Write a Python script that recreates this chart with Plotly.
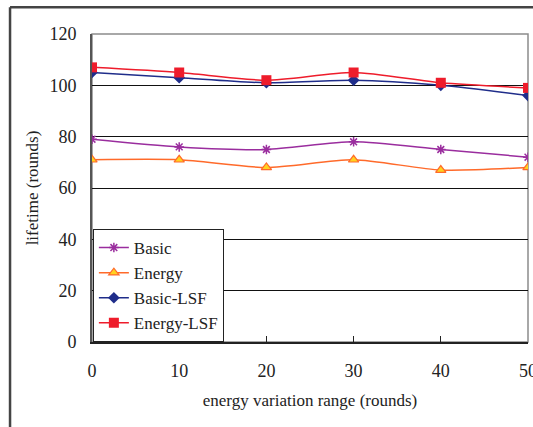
import plotly.graph_objects as go

x_vals = [0, 10, 20, 30, 40, 50]
basic = [79, 76, 75, 78, 75, 72]
energy = [71, 71, 68, 71, 67, 68]
basic_lsf = [105, 103, 101, 102, 100, 96]
energy_lsf = [107, 105, 102, 105, 101, 99]

FONT = "'Liberation Serif', 'Times New Roman', 'DejaVu Serif', serif"

fig = go.Figure()
fig.add_trace(go.Scatter(x=x_vals, y=basic, name="Basic", mode="lines+markers",
                         line=dict(color="#9A2D9E", width=1.5, shape="spline", smoothing=0.7),
                         marker=dict(symbol="asterisk-open", size=8, color="#9A2D9E",
                                     line=dict(color="#9A2D9E", width=1.5))))
fig.add_trace(go.Scatter(x=x_vals, y=energy, name="Energy", mode="lines+markers",
                         line=dict(color="#FF6A2A", width=1.5, shape="spline", smoothing=0.7),
                         marker=dict(symbol="triangle-up", size=9, color="#FFD21F",
                                     line=dict(color="#FF6A2A", width=1.2))))
fig.add_trace(go.Scatter(x=x_vals, y=basic_lsf, name="Basic-LSF", mode="lines+markers",
                         line=dict(color="#1F2D8A", width=1.5, shape="spline", smoothing=0.7),
                         marker=dict(symbol="diamond", size=9, color="#1F2D8A")))
fig.add_trace(go.Scatter(x=x_vals, y=energy_lsf, name="Energy-LSF", mode="lines+markers",
                         line=dict(color="#EE1C2B", width=1.5, shape="spline", smoothing=0.7),
                         marker=dict(symbol="square", size=10, color="#EE1C2B")))

# plot-area border (grey top/right)
fig.add_shape(type="rect", xref="paper", yref="paper", x0=0, y0=0, x1=1, y1=1,
              line=dict(color="#8C8C8C", width=1.5), layer="below")
# outer frame lines
fig.add_shape(type="line", xref="paper", yref="paper", x0=-0.188, x1=1.02, y0=1.087, y1=1.087,
              line=dict(color="#444444", width=2.5))
fig.add_shape(type="line", xref="paper", yref="paper", x0=-0.188, x1=-0.188, y0=1.087, y1=-0.3,
              line=dict(color="#444444", width=2.5))

fig.update_layout(
    width=533, height=427,
    margin=dict(l=92, r=5, t=34, b=85),
    paper_bgcolor="white", plot_bgcolor="white",
    font=dict(family=FONT, color="#222222", size=17),
    showlegend=True,
    legend=dict(x=0.002, y=0.0, xanchor="left", yanchor="bottom",
                bgcolor="white", bordercolor="#222222", borderwidth=1,
                font=dict(family=FONT, size=17, color="#222222"),
                tracegroupgap=0, itemwidth=30),
    xaxis=dict(range=[0, 50], tickvals=x_vals, ticks="inside", ticklen=6,
               tickcolor="#222222", showline=True, linecolor="#222222", linewidth=1.5,
               showgrid=False, zeroline=False, ticklabeloverflow="allow",
               ticklabelstandoff=12, automargin="height",
               title=dict(text="energy variation range (rounds)", font=dict(family=FONT, size=17), standoff=14),
               tickfont=dict(family=FONT, size=18)),
    yaxis=dict(range=[0, 120], tickvals=[0, 20, 40, 60, 80, 100, 120], ticks="",
               showline=True, linecolor="#555555", linewidth=2,
               showgrid=True, gridcolor="#111111", gridwidth=1.2, zeroline=False,
               title=dict(text="lifetime (rounds)", font=dict(family=FONT, size=17), standoff=6),
               tickfont=dict(family=FONT, size=18), ticklabelstandoff=10),
)

fig.write_html("out.html")
